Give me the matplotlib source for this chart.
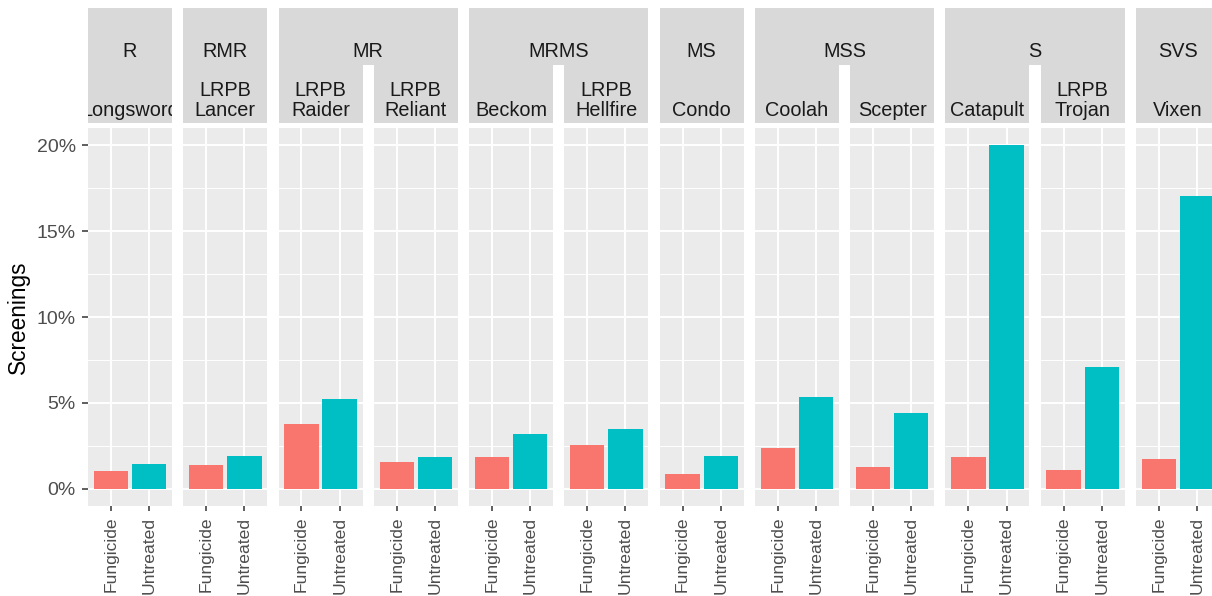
import numpy as np
import matplotlib.pyplot as plt

plt.rcParams['font.family'] = ['Liberation Sans', 'DejaVu Sans']

# data (values in %)
groups = ["R", "RMR", "MR", "MR", "MRMS", "MRMS", "MS", "MSS", "MSS", "S", "S", "SVS"]
varieties = ["Longsword", "LRPB\nLancer", "LRPB\nRaider", "LRPB\nReliant", "Beckom",
             "LRPB\nHellfire", "Condo", "Coolah", "Scepter", "Catapult",
             "LRPB\nTrojan", "Vixen"]
treatments = ["Fungicide", "Untreated"]
fungicide = [1.01, 1.36, 3.78, 1.56, 1.83, 2.55, 0.89, 2.37, 1.27, 1.84, 1.10, 1.74]
untreated = [1.46, 1.91, 5.24, 1.83, 3.21, 3.48, 1.91, 5.33, 4.42, 20.0, 7.08, 17.05]
y_major = [0, 5, 10, 15, 20]
y_minor = [2.5, 7.5, 12.5, 17.5]

COLORS = ["#F8766D", "#00BFC4"]
W, H = 1212, 596

# layout in pixels
LEFT0, PITCH, PW = 88, 95.27, 84
PTOP, PBOT = 128, 506
OTOP, OBOT = 8, 65      # outer strip
ITOP, IBOT = 65, 123    # inner strip


def rect(l, t, r, b):
    return [l / W, 1 - b / H, (r - l) / W, (b - t) / H]


def strip_ax(fig, l, t, r, b):
    ax = fig.add_axes(rect(l, t, r, b))
    ax.set_facecolor("#D9D9D9")
    ax.set_xticks([])
    ax.set_yticks([])
    for s in ax.spines.values():
        s.set_visible(False)
    return ax


fig = plt.figure(figsize=(W / 100, H / 100), dpi=100)

all_vals = fungicide + untreated
ymax = max(all_vals)
ylim = (-0.05 * ymax, 1.05 * ymax)

for i in range(len(varieties)):
    l = LEFT0 + i * PITCH
    ax = fig.add_axes(rect(l, PTOP, l + PW, PBOT))
    ax.set_facecolor("#EBEBEB")
    x = np.arange(len(treatments)) + 1
    ax.bar(x, [fungicide[i], untreated[i]], width=0.9, color=COLORS, zorder=3)
    ax.set_xlim(0.4, 2.6)
    ax.set_ylim(*ylim)
    ax.set_xticks(x)
    ax.set_xticklabels(treatments, rotation=90, va="top", ha="center",
                       fontsize=12.6, color="#4D4D4D")
    ax.set_yticks(y_major)
    ax.set_yticks(y_minor, minor=True)
    if i == 0:
        ax.set_yticklabels([f"{v}%" for v in y_major], fontsize=14, color="#4D4D4D")
        ax.tick_params(axis="y", which="major", length=4, width=1.1,
                       color="#333333", pad=4.8)
    else:
        ax.set_yticklabels([])
        ax.tick_params(axis="y", which="major", length=0)
    ax.tick_params(axis="y", which="minor", length=0)
    ax.tick_params(axis="x", length=3.5, width=1.1, color="#333333", pad=4.3)
    ax.grid(which="major", color="white", lw=1.4)
    ax.grid(which="minor", axis="y", color="white", lw=0.7)
    ax.set_axisbelow(True)
    for s in ax.spines.values():
        s.set_visible(False)

    # inner strip
    sax = strip_ax(fig, l, ITOP, l + PW, IBOT)
    lines = varieties[i].split("\n")[::-1]
    for k, line in enumerate(lines):
        yb = 115.5 - 20 * k
        sax.text(0.5, (IBOT - yb) / (IBOT - ITOP), line, transform=sax.transAxes,
                 ha="center", va="baseline", fontsize=14.3, color="#1A1A1A",
                 clip_on=True)

# outer strips spanning consecutive panels of the same group
start = 0
for i in range(1, len(groups) + 1):
    if i == len(groups) or groups[i] != groups[start]:
        l = LEFT0 + start * PITCH
        r = LEFT0 + (i - 1) * PITCH + PW
        oax = strip_ax(fig, l, OTOP, r, OBOT)
        oax.text(0.5, (OBOT - 57.3) / (OBOT - OTOP), groups[start],
                 transform=oax.transAxes, ha="center", va="baseline",
                 fontsize=14.3, color="#1A1A1A", clip_on=True)
        start = i

fig.text(18 / W, 1 - 317 / H, "Screenings", rotation=90, ha="center",
         va="center", fontsize=16.3, color="black")

fig.savefig("out.png", dpi=100)
